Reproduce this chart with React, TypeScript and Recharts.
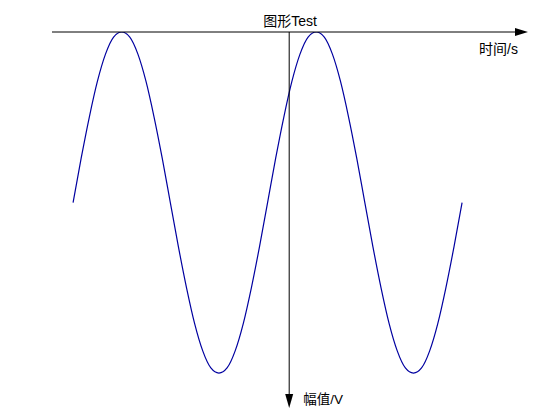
import React from 'react';
import { LineChart, Line, XAxis, YAxis, ReferenceLine } from 'recharts';

const timeDeg = [
  0, 15, 30, 45, 60, 75, 90, 105, 120, 135, 150, 165, 180, 195, 210, 225, 240, 255, 270, 285, 300, 315, 330, 345,
  360, 375, 390, 405, 420, 435, 450, 465, 480, 495, 510, 525, 540, 555, 570, 585, 600, 615, 630, 645, 660, 675, 690, 705, 720,
];
const amplitude = [
  0, 0.26, 0.5, 0.71, 0.87, 0.97, 1, 0.97, 0.87, 0.71, 0.5, 0.26, 0, -0.26, -0.5, -0.71, -0.87, -0.97, -1, -0.97, -0.87, -0.71, -0.5, -0.26,
  0, 0.26, 0.5, 0.71, 0.87, 0.97, 1, 0.97, 0.87, 0.71, 0.5, 0.26, 0, -0.26, -0.5, -0.71, -0.87, -0.97, -1, -0.97, -0.87, -0.71, -0.5, -0.26, 0,
];
const titleText = '图形Test';
const xAxisName = '时间/s';
const yAxisName = '幅值/V';
const xDomain: [number, number] = [-39, 842];
const yDomain: [number, number] = [-1.205, 1];
const yAxisAt = 400;

const data = timeDeg.map((t, i) => ({ t, v: amplitude[i] }));

const FONT = '"Liberation Sans", Arial, "Noto Sans CJK SC", sans-serif';

const HorizontalAxisShape = (props: any) => {
  const { x1, y1, x2 } = props;
  return (
    <g>
      <line x1={x1} y1={y1} x2={x2 - 6} y2={y1} stroke="#000" strokeWidth={1} />
      <polygon points={`${x2},${y1} ${x2 - 13},${y1 - 4} ${x2 - 13},${y1 + 4}`} fill="#000" />
      <text x={(x1 + x2) / 2} y={y1 - 6} textAnchor="middle" fontSize={14} fontFamily={FONT} fill="#000">
        {titleText}
      </text>
      <text x={x2 - 49} y={y1 + 22} fontSize={14} fontFamily={FONT} fill="#000">
        {xAxisName}
      </text>
    </g>
  );
};

const VerticalAxisShape = (props: any) => {
  const { x1, y1, y2 } = props;
  const top = Math.min(y1, y2);
  const bottom = Math.max(y1, y2);
  return (
    <g>
      <line x1={x1} y1={top} x2={x1} y2={bottom - 6} stroke="#000" strokeWidth={1} />
      <polygon points={`${x1},${bottom} ${x1 - 4},${bottom - 14} ${x1 + 4},${bottom - 14}`} fill="#000" />
      <text x={x1 + 14} y={bottom - 4} fontSize={13.5} fontFamily={FONT} fill="#000">
        {yAxisName}
      </text>
    </g>
  );
};

export default function App() {
  return (
    <div style={{ position: 'absolute', left: 0, top: 0, width: 560, height: 420, background: '#fff' }}>
      <LineChart width={560} height={420} data={data} margin={{ top: 32, right: 32, bottom: 12, left: 52 }}>
        <XAxis dataKey="t" type="number" domain={xDomain} allowDataOverflow hide />
        <YAxis type="number" domain={yDomain} allowDataOverflow hide />
        <Line
          dataKey="v"
          type="monotone"
          stroke="#0000a0"
          strokeWidth={1.2}
          dot={false}
          isAnimationActive={false}
        />
        <ReferenceLine y={yDomain[1]} shape={HorizontalAxisShape} ifOverflow="visible" />
        <ReferenceLine x={yAxisAt} shape={VerticalAxisShape} ifOverflow="visible" />
      </LineChart>
    </div>
  );
}
